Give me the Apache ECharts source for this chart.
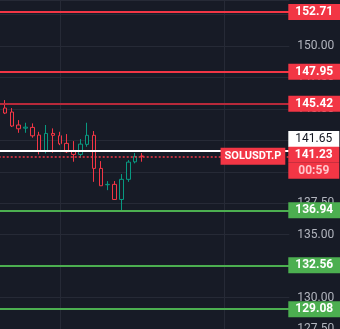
<!DOCTYPE html>
<html><head><meta charset="utf-8">
<script src="https://cdn.jsdelivr.net/npm/echarts@6/dist/echarts.min.js"></script>
<style>html,body{margin:0;padding:0;background:#171b26;}#c{width:340px;height:329px;}</style>
</head><body><div id="c"></div>
<script>
// ---- data ----
const times = ['13:30','13:31','13:32','13:33','13:34','13:35','13:36','13:37','13:38','13:39',
  '13:40','13:41','13:42','13:43','13:44','13:45','13:46','13:47','13:48','13:49',
  '13:50','13:51','13:52','13:53','13:54','13:55','13:56','13:57','13:58','13:59',
  '14:00','14:01','14:02','14:03','14:04','14:05','14:06','14:07','14:08','14:09',
  '14:10','14:11','14:12'];
const opens  = [144.67,145.07,144.75,143.72,143.47,143.53,142.92,141.62,143.05,142.87,142.26,141.62,141.38,142.18,142.90,140.27,138.97,139.00,137.80,139.40,140.79,141.25];
const closes = [145.07,144.67,143.64,143.42,143.55,142.86,141.67,143.05,142.90,142.23,141.59,141.38,142.20,142.90,140.27,138.89,139.00,137.80,139.40,140.77,141.22,141.23];
const lows   = [144.50,144.59,143.56,143.10,143.10,142.71,141.38,141.46,141.51,142.12,141.49,140.80,141.11,141.99,139.20,138.89,138.54,137.80,136.95,139.20,140.67,140.80];
const highs  = [145.20,145.70,145.07,144.11,143.90,143.85,143.18,143.72,143.45,143.18,143.00,142.44,142.60,143.90,143.24,140.85,139.26,139.26,139.82,140.93,141.49,141.49];
const resistance = [152.71, 147.95, 145.42];
const support = [136.94, 132.56, 129.08];
const highLine = 141.65;
const lastPrice = 141.23;
const symbolName = 'SOLUSDT.P';
const countdown = '00:59';
const yMin = 127.5, yMax = 153.66, yStep = 2.5;
const timeGridIdx = [9, 33];

// ---- styles ----
const BG = '#171b26', RED = '#f23645', GREEN = '#4caf50', UP = '#089981';
const GRID = '#262a36';
const FONT = 'Roboto';
const resistLineColors = [RED, RED, '#b8293a'];

const candles = opens.map((o, i) => [o, closes[i], lows[i], highs[i]]);

const boxLabel = (bg) => ({
  show: true, position: 'end', distance: -1,
  formatter: p => p.value.toFixed(2),
  color: '#ffffff', fontSize: 12, fontWeight: 'bold', fontFamily: FONT,
  padding: [2, 7], backgroundColor: bg
});

const levelData = [];
resistance.forEach((v, i) => levelData.push({
  yAxis: v, lineStyle: {color: resistLineColors[i], width: 2, type: 'solid'}, label: boxLabel(RED)
}));
support.forEach(v => levelData.push({
  yAxis: v, lineStyle: {color: GREEN, width: 2, type: 'solid'}, label: boxLabel(GREEN)
}));
levelData.push({
  yAxis: highLine, lineStyle: {color: '#ffffff', width: 2, type: 'solid'},
  label: {
    show: true, position: 'end', distance: -1,
    formatter: p => `{a|${p.value.toFixed(2)}}\n{s| }`,
    rich: {
      a: {backgroundColor: '#ffffff', color: '#131722', fontSize: 12, fontFamily: FONT, padding: [2, 7], width: 37, align: 'center'},
      s: {lineHeight: 24, fontSize: 12}
    }
  }
});
levelData.push({
  yAxis: lastPrice, lineStyle: {color: RED, width: 1.5, type: [2, 2]},
  label: {
    show: true, position: 'end', distance: -1,
    formatter: p => `{s| }\n{a|${p.value.toFixed(2)}}\n{b|${countdown}}`,
    rich: {
      s: {lineHeight: 13, fontSize: 12},
      a: {backgroundColor: RED, color: '#ffffff', fontSize: 12, fontWeight: 'bold', fontFamily: FONT, padding: [2, 7], width: 37, align: 'center'},
      b: {backgroundColor: RED, color: '#ffc6cb', fontSize: 12, fontWeight: 'bold', fontFamily: FONT, padding: [2, 7], width: 37, align: 'center'}
    }
  }
});
levelData.push({
  yAxis: lastPrice, lineStyle: {color: 'rgba(0,0,0,0)', width: 1, type: 'solid'},
  label: {
    show: true, position: 'insideEnd', distance: 4,
    formatter: () => symbolName,
    color: '#ffffff', fontSize: 11, fontWeight: 'bold', fontFamily: FONT,
    padding: [3, 4], backgroundColor: RED
  }
});

const chart = echarts.init(document.getElementById('c'), null, {renderer: 'canvas'});
chart.setOption({
  backgroundColor: BG,
  animation: false,
  grid: {left: -5.3, right: 50.7, top: 0, bottom: 0, containLabel: false, outerBoundsMode: 'none'},
  xAxis: {
    type: 'category', data: times, boundaryGap: true,
    axisLine: {show: false}, axisTick: {show: false}, axisLabel: {show: false}, splitLine: {show: false}
  },
  yAxis: {
    type: 'value', position: 'right', min: yMin, max: yMax, interval: yStep,
    axisLine: {show: false}, axisTick: {show: false},
    splitLine: {lineStyle: {color: GRID, width: 1}},
    axisLabel: {color: '#b2b5be', fontSize: 12, fontFamily: FONT, margin: 8,
      formatter: v => v.toFixed(2), showMaxLabel: false}
  },
  series: [
    {
      type: 'line', data: [], z: 1, silent: true,
      markLine: {
        symbol: ['none', 'none'], silent: true, animation: false,
        label: {show: false},
        lineStyle: {color: GRID, width: 1, type: 'solid'},
        data: timeGridIdx.map(i => ({xAxis: times[i]}))
      }
    },
    {
      type: 'candlestick', z: 2, data: candles, barWidth: 4,
      itemStyle: {color: BG, color0: BG, borderColor: UP, borderColor0: RED, borderWidth: 1},
      markLine: {
        symbol: ['none', 'none'], silent: true, animation: false,
        data: levelData
      }
    }
  ]
});
</script></body></html>
